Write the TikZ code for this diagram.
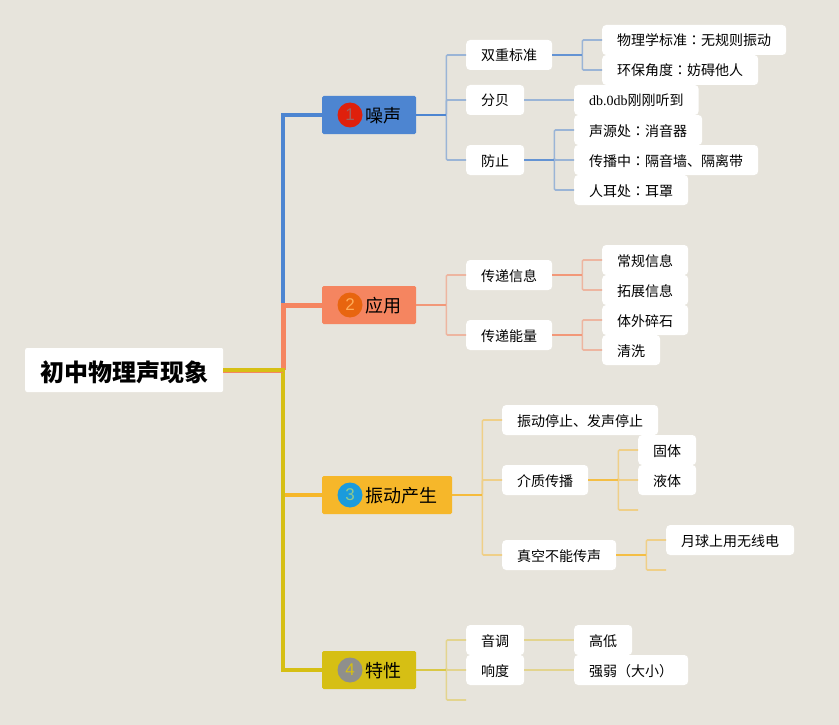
\documentclass[tikz,border=0pt]{standalone}
\usepackage{fontspec}
\setmainfont{Noto Sans CJK SC}
\newfontfamily\cjktc{Noto Sans CJK TC}
\newfontfamily\numfont{Liberation Sans}
\newfontfamily\latinfont{Liberation Serif}
\newcommand{\midcolon}{{\cjktc ：}}
\definecolor{paper}{HTML}{E7E4DC}
\definecolor{bluemain}{HTML}{4D85D1}
\definecolor{bluesoft}{HTML}{9AB4D6}
\definecolor{orangemain}{HTML}{F58560}
\definecolor{orangesoft}{HTML}{EDB5A0}
\definecolor{goldmain}{HTML}{F6B72A}
\definecolor{goldsoft}{HTML}{EFCF88}
\definecolor{olivemain}{HTML}{D6BF14}
\definecolor{olivesoft}{HTML}{E3D48E}
\tikzset{
  rootbox/.style={fill=white,rounded corners=2pt,anchor=west,inner xsep=15pt,inner ysep=0pt,
    minimum height=44pt,text height=24pt,text depth=2pt,font=\fontsize{24pt}{28pt}\selectfont\bfseries},
  branchbox/.style={rounded corners=1.5pt,anchor=west,inner xsep=15pt,inner ysep=0pt,
    minimum height=38pt,text height=17pt,text depth=1.5pt,font=\fontsize{18pt}{22pt}\selectfont},
  leafbox/.style={fill=white,rounded corners=4pt,anchor=west,inner xsep=15pt,inner ysep=0pt,
    minimum height=30pt,text height=13pt,text depth=1pt,font=\fontsize{14pt}{17pt}\selectfont},
  badge/.style={circle,minimum size=25pt,inner sep=0pt,font=\numfont\fontsize{17pt}{20pt}\selectfont},
  trunk/.style={line width=4pt},
  stem/.style={line width=2pt},
  twig/.style={line width=1.6pt,rounded corners=1pt}
}
\begin{document}
\begin{tikzpicture}[x=1pt,y=-1pt]
  \fill[paper] (0,0) rectangle (839,725);
  \useasboundingbox (0,0) rectangle (839,725);
  \node[rootbox] (root) at (25,370) {初中物理声现象};
  \coordinate (hub) at (283,370);
  % main branches
  \node[branchbox,fill=bluemain] (noise) at (322,115) {\hspace*{28pt}噪声};
  \node[branchbox,fill=orangemain] (usage) at (322,305) {\hspace*{28pt}应用};
  \node[branchbox,fill=goldmain] (origin) at (322,495) {\hspace*{28pt}振动产生};
  \node[branchbox,fill=olivemain] (traits) at (322,670) {\hspace*{28pt}特性};
  \node[badge,fill={rgb,255:red,223;green,32;blue,12},text=gray!75!red] (badgeone) at (350,115) {1};
  \node[badge,fill={rgb,255:red,232;green,101;blue,15},text=orange!65] (badgetwo) at (350,305) {2};
  \node[badge,fill={rgb,255:red,27;green,155;blue,220},text=green!35!gray!65] (badgethree) at (350,495) {3};
  \node[badge,fill={rgb,255:red,143;green,143;blue,140},text=olivemain] (badgefour) at (350,670) {4};
  % noise
  \node[leafbox] (standard) at (466,55) {双重标准};
  \node[leafbox] (decibel) at (466,100) {分贝};
  \node[leafbox] (prevent) at (466,160) {防止};
  \node[leafbox] (physics) at (602,40) {物理学标准\midcolon 无规则振动};
  \node[leafbox] (green) at (602,70) {环保角度\midcolon 妨碍他人};
  \node[leafbox] (zerodb) at (574,100) {{\latinfont db.0db}刚刚听到};
  \node[leafbox] (source) at (574,130) {声源处\midcolon 消音器};
  \node[leafbox] (path) at (574,160) {传播中\midcolon 隔音墙、隔离带};
  \node[leafbox] (ear) at (574,190) {人耳处\midcolon 耳罩};
  % usage
  \node[leafbox] (info) at (466,275) {传递信息};
  \node[leafbox] (energy) at (466,335) {传递能量};
  \node[leafbox] (usual) at (602,260) {常规信息};
  \node[leafbox] (extend) at (602,290) {拓展信息};
  \node[leafbox] (stone) at (602,320) {体外碎石};
  \node[leafbox] (clean) at (602,350) {清洗};
  % origin
  \node[leafbox] (stop) at (502,420) {振动停止、发声停止};
  \node[leafbox] (medium) at (502,480) {介质传播};
  \node[leafbox] (vacuum) at (502,555) {真空不能传声};
  \node[leafbox] (solid) at (638,450) {固体};
  \node[leafbox] (liquid) at (638,480) {液体};
  \coordinate (mediumend) at (638,510);
  \node[leafbox] (moon) at (666,540) {月球上用无线电};
  \coordinate (vacuumend) at (666,570);
  % traits
  \node[leafbox] (pitch) at (466,640) {音调};
  \node[leafbox] (loud) at (466,670) {响度};
  \coordinate (traitsend) at (466,700);
  \node[leafbox] (high) at (574,640) {高低};
  \node[leafbox] (strong) at (574,670) {强弱（大小）};
  % main lines
  \draw[trunk,bluemain] (noise.west) -| (hub);
  \draw[trunk,line width=5pt,orangemain] (usage.west) -| (hub);
  \draw[trunk,goldmain] (origin.west) -- (283,495);
  \draw[trunk,olivemain] (traits.west) -| (hub);
  \draw[line width=5pt,orangemain] (root.east) -- (hub);
  \draw[trunk,olivemain] (root.east) ++(0,-0.5) -- ++(62,0);
  % thin lines
  \foreach \kid in {standard,decibel,prevent}
    \draw[twig,bluesoft] (noise.east) -- ++(30,0) |- (\kid.west);
  \foreach \kid in {physics,green}
    \draw[twig,bluesoft] (standard.east) -- ++(30,0) |- (\kid.west);
  \foreach \kid in {source,path,ear}
    \draw[twig,bluesoft] (prevent.east) -- ++(30,0) |- (\kid.west);
  \draw[twig,bluesoft] (decibel.east) -- (zerodb.west);
  \foreach \kid in {info,energy}
    \draw[twig,orangesoft] (usage.east) -- ++(30,0) |- (\kid.west);
  \foreach \kid in {usual,extend}
    \draw[twig,orangesoft] (info.east) -- ++(30,0) |- (\kid.west);
  \foreach \kid in {stone,clean}
    \draw[twig,orangesoft] (energy.east) -- ++(30,0) |- (\kid.west);
  \foreach \kid in {stop,medium,vacuum}
    \draw[twig,goldsoft] (origin.east) -- ++(30,0) |- (\kid.west);
  \foreach \kid in {solid,liquid,mediumend}
    \draw[twig,goldsoft] (medium.east) -- ++(30,0) |- (\kid);
  \foreach \kid in {moon,vacuumend}
    \draw[twig,goldsoft] (vacuum.east) -- ++(30,0) |- (\kid);
  \foreach \kid in {pitch,loud,traitsend}
    \draw[twig,olivesoft] (traits.east) -- ++(30,0) |- (\kid);
  \draw[twig,olivesoft] (pitch.east) -- (high.west);
  \draw[twig,olivesoft] (loud.east) -- (strong.west);
  % stems
  \draw[stem,bluemain] (noise.east) -- ++(30,0);
  \draw[stem,bluemain!85!paper] (standard.east) -- ++(30,0);
  \draw[stem,bluemain!85!paper] (prevent.east) -- ++(30,0);
  \draw[stem,orangemain!80!paper] (usage.east) -- ++(30,0);
  \draw[stem,orangemain!80!paper] (info.east) -- ++(30,0);
  \draw[stem,orangemain!80!paper] (energy.east) -- ++(30,0);
  \draw[stem,goldmain!90!paper] (origin.east) -- ++(30,0);
  \draw[stem,goldmain!85!paper] (medium.east) -- ++(30,0);
  \draw[stem,goldmain!85!paper] (vacuum.east) -- ++(30,0);
  \draw[stem,olivemain!75!paper] (traits.east) -- ++(30,0);
\end{tikzpicture}
\end{document}
